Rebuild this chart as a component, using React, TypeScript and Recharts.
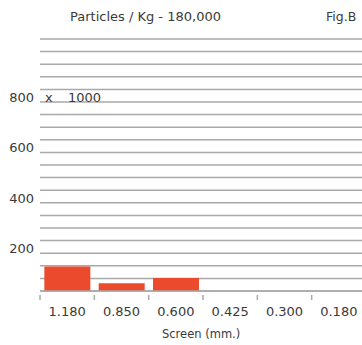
import React from "react";
import { Bar, BarChart, CartesianGrid, XAxis, YAxis } from "recharts";

const screens = ["1.180", "0.850", "0.600", "0.425", "0.300", "0.180"];
const particles = [97, 31, 52, 0, 0, 0];
const gridTicks = [0, 50, 100, 150, 200, 250, 300, 350, 400, 450, 500, 550, 600, 650, 700, 750, 800, 850, 900, 950, 1000];
const labelTicks = [200, 400, 600, 800];

const data = screens.map((s, i) => ({ screen: s, value: particles[i] }));

const FONT = "'DejaVu Sans', Verdana, sans-serif";
const TEXT = "#3a3a3a";
const GRID = "#a9a9a9";
const BAR = "#ec4a2c";
const BAND = 54.3;

function YTick(props: any) {
  const { x, y, payload } = props;
  if (!labelTicks.includes(payload.value)) return null;
  return (
    <g>
      <text x={x + 2} y={y + 8} dy="0.35em" textAnchor="end" fontSize={13} fontFamily={FONT} fill={TEXT}>
        {payload.value}
      </text>
      {payload.value === 800 && (
        <>
          <text x={x + 13} y={y + 8} dy="0.35em" fontSize={13} fontFamily={FONT} fill={TEXT}>x</text>
          <text x={x + 36} y={y + 8} dy="0.35em" fontSize={13} fontFamily={FONT} fill={TEXT}>1000</text>
        </>
      )}
    </g>
  );
}

function XTick(props: any) {
  const { x, y, payload } = props;
  const left = x - BAND / 2;
  return (
    <g>
      <line x1={left} y1={y - 4} x2={left} y2={y + 1} stroke={GRID} strokeWidth={1.5} />
      <text x={x} y={y + 17} textAnchor="middle" fontSize={13} fontFamily={FONT} fill={TEXT}>
        {payload.value}
      </text>
    </g>
  );
}

export default function App() {
  return (
    <div style={{ position: "absolute", left: 0, top: 0, width: 362, height: 345, overflow: "hidden", background: "#fff", fontFamily: FONT }}>
      <div style={{ position: "absolute", left: 70, top: 9, fontSize: 13, color: TEXT, whiteSpace: "nowrap" }}>
        Particles / Kg - 180,000
      </div>
      <div style={{ position: "absolute", left: 326, top: 9, fontSize: 12.5, color: TEXT, whiteSpace: "nowrap" }}>
        Fig.B
      </div>
      <div style={{ position: "absolute", left: 162, top: 327, fontSize: 11.5, color: TEXT, whiteSpace: "nowrap" }}>
        Screen (mm.)
      </div>
      <BarChart
        width={380}
        height={345}
        data={data}
        margin={{ top: 39, right: 14, bottom: 0, left: 0 }}
        barCategoryGap="8%"
      >
        <CartesianGrid vertical={false} stroke={GRID} strokeWidth={1.5} />
        <XAxis
          dataKey="screen"
          axisLine={{ stroke: GRID, strokeWidth: 1.5 }}
          tickLine={false}
          tick={<XTick />}
          interval={0}
          height={54}
        />
        <YAxis
          width={40}
          domain={[0, 1000]}
          ticks={gridTicks}
          interval={0}
          axisLine={false}
          tickLine={false}
          tick={<YTick />}
        />
        <Bar dataKey="value" fill={BAR} isAnimationActive={false} />
      </BarChart>
    </div>
  );
}
